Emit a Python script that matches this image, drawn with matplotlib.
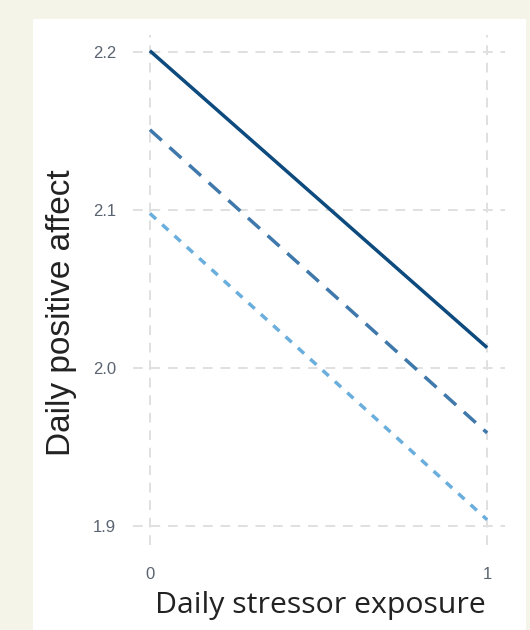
import matplotlib
matplotlib.use("Agg")
import matplotlib.pyplot as plt

# Datos (pendientes simples)
x_vals = [0, 1]
alto = [2.201, 2.013]
medio = [2.151, 1.959]
bajo = [2.098, 1.904]

x_ticks = [0, 1]
y_ticks = [1.9, 2.0, 2.1, 2.2]

fig = plt.figure(figsize=(5.3, 6.3), dpi=100)
fig.patch.set_facecolor("#f4f4e8")

# Panel blanco de fondo (debajo de los ejes)
panel = plt.Rectangle((33 / 530, 0), (526 - 33) / 530, 1 - 19 / 630,
                      transform=fig.transFigure, facecolor="white",
                      edgecolor="none", zorder=-10)
fig.patches.append(panel)

ax = fig.add_axes([133 / 530, 1 - 545 / 630, (505 - 133) / 530, (545 - 35) / 630])
ax.set_facecolor("white")

ax.plot(x_vals, alto, color="#0d4a7e", linewidth=2.5, solid_capstyle="butt", zorder=3)
ax.plot(x_vals, medio, color="#3f78ab", linewidth=2.5, dashes=(4.6, 3.0), zorder=3)
ax.plot(x_vals, bajo, color="#6aaedd", linewidth=2.5, dashes=(2.4, 2.4), zorder=3)

ax.set_xlim(-0.05, 1.053)
ax.set_ylim(1.888, 2.211)
ax.set_xticks(x_ticks)
ax.set_xticklabels([str(t) for t in x_ticks])
ax.set_yticks(y_ticks)
ax.set_yticklabels([f"{t:.1f}" for t in y_ticks])

ax.grid(True, color="#e0e0e0", linewidth=1.4, linestyle=(0, (5, 4)))
ax.set_axisbelow(True)
for s in ax.spines.values():
    s.set_visible(False)
ax.tick_params(length=0, labelsize=12, labelcolor="#5a6470")
ax.tick_params(axis="y", pad=12)
ax.tick_params(axis="x", pad=16)
for lab in ax.get_xticklabels() + ax.get_yticklabels():
    lab.set_family("Liberation Sans")

ax.set_xlabel("Daily stressor exposure", fontsize=21.8, family="Open Sans",
              color="#222222", va="center")
ax.set_ylabel("Daily positive affect", fontsize=24, family="Liberation Sans",
              color="#222222", va="center")
# posiciones de las etiquetas segun la imagen
ax.xaxis.set_label_coords(0.505, -0.118)
ax.yaxis.set_label_coords(-0.191, 0.455)

plt.savefig("out.png", dpi=100, facecolor=fig.get_facecolor())
plt.close()
